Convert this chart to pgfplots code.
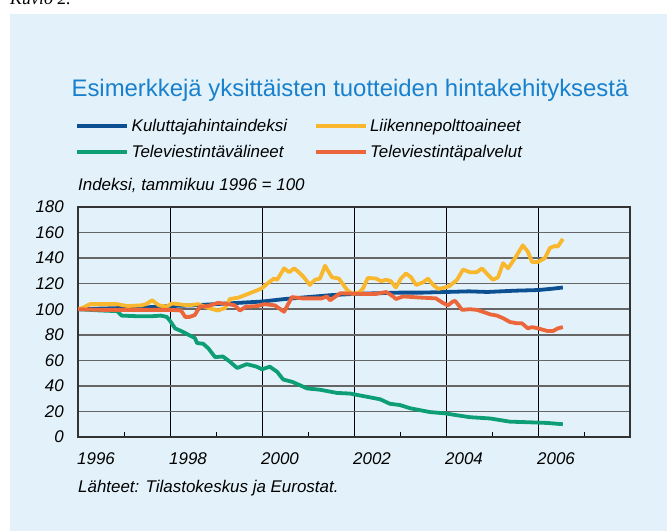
\documentclass[border=0pt]{standalone}
\usepackage{fontspec}
\setmainfont{Liberation Sans}
\newfontfamily\serifit{Liberation Serif}
\usepackage{pgfplots}
\pgfplotsset{compat=1.18}
\definecolor{bgblue}{RGB}{227,242,250}
\definecolor{titleblue}{RGB}{24,128,204}
\definecolor{cpiblue}{RGB}{12,80,145}
\definecolor{fuel}{RGB}{248,183,45}
\definecolor{teleg}{RGB}{14,158,118}
\definecolor{telr}{RGB}{236,102,60}
\newcommand{\lab}{\itshape\fontsize{17}{20}\selectfont}
\begin{document}
\begin{tikzpicture}
\useasboundingbox (0bp,0bp) rectangle (667bp,531bp);
\clip (0bp,0bp) rectangle (667bp,531bp);
\fill[white] (0bp,0bp) rectangle (667bp,531bp);
\fill[bgblue] (10bp,0bp) rectangle (667bp,517bp);
\node[anchor=base west, inner sep=0pt, font=\serifit\itshape\fontsize{18}{20}\selectfont] at (10bp,526bp) {Kuvio 2.};
\node[anchor=center, inner sep=0pt, text=titleblue, font=\fontsize{24}{28}\selectfont] at (350bp,441bp) {Esimerkkejä yksittäisten tuotteiden hintakehityksestä};
\node[anchor=west, inner sep=0pt, font=\lab] at (78bp,346bp) {Indeksi, tammikuu 1996 = 100};
\node[anchor=west, inner sep=0pt, font=\lab] at (78bp,43bp) {Lähteet: Tilastokeskus ja Eurostat.};
\begin{axis}[
  at={(78bp,94bp)}, anchor=south west,
  width=552bp, height=230bp, scale only axis,
  xmin=1996, xmax=2008, ymin=0, ymax=180,
  axis line style={black!80, line width=1.2bp},
  xtick={1996,1998,...,2006}, xticklabels={1996,1998,2000,2002,2004,2006},
  minor xtick={1997,1999,...,2007},
  ytick={0,20,...,180},
  xmajorgrids, ymajorgrids,
  x grid style={black, line width=0.9bp},
  y grid style={black!60, line width=1.5bp},
  tick align=inside, xtick pos=left, ytick pos=left,
  major tick length=0pt, minor tick length=5bp,
  minor tick style={black, line width=0.9bp},
  /pgf/number format/assume math mode=true,
  /pgf/number format/1000 sep={},
  xticklabel style={anchor=north west, inner sep=0pt, xshift=-1bp, yshift=-15bp, font=\lab},
  yticklabel style={anchor=east, inner sep=0pt, xshift=-14bp, font=\lab},
  legend columns=2,
  legend cell align=left,
  legend image code/.code={\draw[#1] (0bp,0bp) -- (50bp,0bp);},
  legend style={at={(axis description cs:-0.0054,1.394)}, anchor=north west,
    draw=none, fill=none, inner sep=0pt, font=\lab, row sep=7bp,
    nodes={inner sep=2.5bp},
    /tikz/every even column/.append style={column sep=24bp}},
]
\addlegendimage{cpiblue, line width=4bp}\addlegendentry{Kuluttajahintaindeksi}
\addlegendimage{fuel, line width=4bp}\addlegendentry{Liikennepolttoaineet}
\addlegendimage{teleg, line width=4bp}\addlegendentry{Televiestintävälineet}
\addlegendimage{telr, line width=4bp}\addlegendentry{Televiestintäpalvelut}

\addplot[cpiblue, line width=3.8bp, line join=round, forget plot] coordinates {
(1996.00,100) (1996.50,100.5) (1997.00,101) (1997.50,101.5) (1998.00,102.5)
(1998.50,103) (1999.00,104) (1999.50,105) (2000.00,106) (2000.50,108)
(2001.00,109.5) (2001.50,111) (2002.00,112) (2002.50,112.5) (2003.00,113)
(2003.50,113) (2004.00,113.5) (2004.50,114) (2004.90,113.5) (2005.50,114.5)
(2006.00,115) (2006.30,116) (2006.54,117)
};
\addplot[teleg, line width=3.8bp, line join=round, forget plot] coordinates {
(1996.00,100) (1996.50,99) (1996.85,98.5) (1996.95,95) (1997.30,94.5) (1997.60,94.5)
(1997.80,95) (1997.93,94) (1998.00,91) (1998.11,85) (1998.24,83) (1998.37,80.6)
(1998.54,77.5) (1998.59,73.5) (1998.72,73) (1998.83,69.5) (1998.98,62.5)
(1999.15,63) (1999.30,59) (1999.46,54) (1999.67,57) (1999.89,55) (2000.00,53)
(2000.17,55) (2000.33,51) (2000.46,45) (2000.67,43) (2000.98,38) (2001.26,37)
(2001.63,34.5) (2001.91,34) (2002.28,31.5) (2002.57,29.5) (2002.78,26)
(2003.00,25) (2003.22,22.5) (2003.65,19.5) (2003.98,18.5) (2004.24,17)
(2004.52,15.5) (2004.96,14.5) (2005.39,12) (2005.83,11.5) (2006.20,11) (2006.54,10)
};
\addplot[fuel, line width=3.8bp, line join=round, forget plot] coordinates {
(1996.00,100) (1996.10,101) (1996.26,104) (1996.70,104) (1996.85,104) (1997.07,102.5)
(1997.37,103) (1997.48,104) (1997.61,107) (1997.76,103) (1997.93,102) (1998.04,104.5)
(1998.17,104) (1998.39,103) (1998.61,104) (1998.83,101) (1999.04,99) (1999.20,101)
(1999.30,108) (1999.48,109) (1999.70,112) (1999.91,115) (2000.00,116.5) (2000.15,121)
(2000.26,124) (2000.33,123) (2000.48,132) (2000.59,129) (2000.70,132) (2000.80,129)
(2000.91,125) (2001.04,119) (2001.15,123) (2001.26,124) (2001.37,134) (2001.52,125)
(2001.67,124) (2001.85,115) (2001.96,112) (2002.11,113) (2002.20,116.5) (2002.30,124.5)
(2002.48,124) (2002.59,122) (2002.70,123) (2002.80,122) (2002.91,117) (2003.02,124)
(2003.13,128) (2003.24,125) (2003.35,119) (2003.50,121) (2003.61,124) (2003.72,119)
(2003.83,116) (2003.93,116.5) (2004.07,118) (2004.24,123) (2004.37,131) (2004.52,129)
(2004.67,129) (2004.78,132) (2004.91,127) (2005.02,123) (2005.13,125) (2005.24,136)
(2005.35,132) (2005.50,140) (2005.67,150) (2005.78,145) (2005.87,137) (2006.00,137)
(2006.15,140) (2006.26,148) (2006.37,149.5) (2006.43,149) (2006.54,155)
};
\addplot[telr, line width=3.8bp, line join=round, forget plot] coordinates {
(1996.00,100) (1996.50,99.5) (1997.50,99.5) (1998.00,99.5) (1998.24,99) (1998.33,94)
(1998.43,94) (1998.54,95.5) (1998.65,102) (1998.83,102.5) (1999.04,105) (1999.26,104)
(1999.41,103) (1999.52,99) (1999.65,102) (1999.91,102.5) (2000.05,104) (2000.28,103)
(2000.48,98) (2000.65,109.5) (2000.87,108.5) (2001.30,108.5) (2001.41,110) (2001.48,107)
(2001.70,112.5) (2002.17,112) (2002.48,112) (2002.70,113.5) (2002.85,110) (2002.91,108)
(2003.07,110) (2003.28,109.5) (2003.50,109) (2003.78,108.5) (2003.93,105) (2004.04,103)
(2004.15,106) (2004.20,106.5) (2004.35,99.5) (2004.52,100) (2004.67,99.5) (2004.80,98)
(2004.96,96) (2005.11,95) (2005.24,93) (2005.39,90) (2005.54,89) (2005.65,89)
(2005.78,85) (2005.87,86) (2006.00,85) (2006.20,83) (2006.33,83) (2006.43,85) (2006.54,86)
};
\end{axis}
\end{tikzpicture}
\end{document}
